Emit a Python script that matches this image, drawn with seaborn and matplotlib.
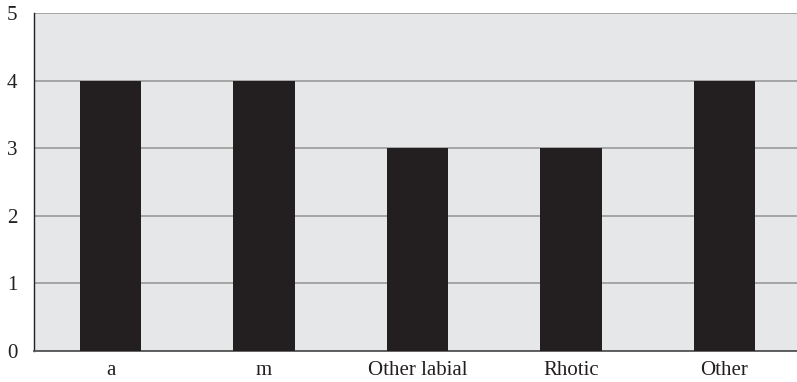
import pandas as pd
import seaborn as sns
import matplotlib.pyplot as plt

# Chart data
categories = ['a', 'm', 'Other labial', 'Rhotic', 'Other']
counts = [4, 4, 3, 3, 4]

df = pd.DataFrame({'category': categories, 'count': counts})

sns.set_style('white')
plt.rcParams['font.family'] = ['Liberation Serif', 'DejaVu Serif']

fig = plt.figure(figsize=(7.97, 3.82), dpi=100)
ax = fig.add_axes([0.0425, 0.081, 0.9625, 0.885])
ax.set_facecolor('#e6e7e8')

sns.barplot(data=df, x='category', y='count', color='#231f20', width=0.4,
            saturation=1, edgecolor='none', linewidth=0, ax=ax, zorder=3)

ax.set_ylim(0, 5)
ax.set_yticks(range(0, 6))
ax.yaxis.grid(True, color='#a0a0a0', linewidth=1.3, zorder=1)
ax.set_axisbelow(True)
ax.set_xlabel('')
ax.set_ylabel('')

for side in ['top', 'right']:
    ax.spines[side].set_visible(False)
ax.spines['left'].set_color('#231f20')
ax.spines['left'].set_linewidth(1.0)
ax.spines['bottom'].set_color('#555555')
ax.spines['bottom'].set_linewidth(1.3)

ax.tick_params(axis='y', length=7, width=1, color='#231f20', labelsize=15, pad=5)
ax.tick_params(axis='x', length=0, labelsize=15, pad=7)
for lbl in ax.get_xticklabels() + ax.get_yticklabels():
    lbl.set_color('#231f20')

fig.savefig('out.png', dpi=100)
